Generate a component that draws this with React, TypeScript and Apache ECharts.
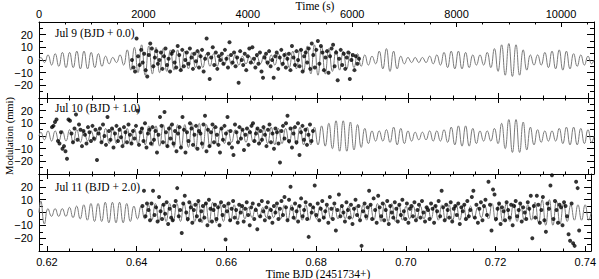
import React, { useEffect, useRef } from "react";
import * as echarts from "echarts";

// ---------- axes ----------
const BJD_MIN = 0.61823;
const BJD_MAX = 0.74129;
const SEC_PER_DAY = 86400;
const TIME_MAX = (BJD_MAX - BJD_MIN) * SEC_PER_DAY;

const bjdMajorTicks = [0.62, 0.64, 0.66, 0.68, 0.7, 0.72, 0.74];
const bjdMinorTicks = [0.625, 0.63, 0.635, 0.645, 0.65, 0.655, 0.665, 0.67, 0.675, 0.685, 0.69, 0.695, 0.705, 0.71, 0.715, 0.725, 0.73, 0.735];
const timeMajorTicks = [0, 2000, 4000, 6000, 8000, 10000];
const timeMinorTicks = [500, 1000, 1500, 2500, 3000, 3500, 4500, 5000, 5500, 6500, 7000, 7500, 8500, 9000, 9500, 10500];

const panelLabels = ["Jul 9 (BJD + 0.0)", "Jul 10 (BJD + 1.0)", "Jul 11 (BJD + 2.0)"];

// ---------- model curve: amplitude (mmi) of each pulsation cycle ----------
const MODEL_CYCLE = 0.0015965; // days per cycle
const jul9Envelope = [
  2, 4, 5, 6, 6, 7, 7, 6, 5, 3,
  2, 4, 8, 10, 12, 11, 10, 9, 8, 8,
  7, 6, 6, 5, 5, 4, 4, 4, 3, 3,
  3, 4, 4, 5, 6, 7, 9, 11, 12, 11,
  9, 8, 7, 6, 5, 4, 3, 7, 9, 7,
  3, 2, 2, 2, 3, 4, 6, 7, 7, 6,
  4, 4, 6, 9, 12, 13, 12, 8, 4, 4,
  6, 7, 8, 7, 5, 4, 3,
];
const jul10Envelope = [
  3, 4, 4, 4, 5, 5, 4, 4, 5, 6,
  6, 7, 6, 6, 7, 8, 8, 9, 9, 9,
  9, 10, 10, 9, 7, 6, 5, 5, 5, 5,
  6, 6, 7, 6, 6, 7, 7, 7, 7, 8,
  10, 12, 12, 11, 9, 6, 4, 4, 5, 7,
  6, 4, 3, 3, 4, 4, 5, 7, 8, 8,
  6, 4, 4, 6, 10, 13, 13, 11, 7, 5,
  4, 4, 6, 7, 7, 6, 5,
];
const jul11Envelope = [
  9, 3, 3, 3, 4, 5, 6, 7, 7, 8,
  8, 8, 7, 5, 5, 6, 7, 7, 7, 7,
  7, 7, 8, 8, 8, 7, 7, 6, 5, 4,
  4, 4, 4, 5, 6, 6, 6, 6, 5, 5,
  5, 5, 5, 5, 5, 6, 6, 7, 7, 7,
  6, 5, 5, 5, 5, 6, 6, 6, 6, 6,
  5, 4, 5, 7, 7, 7, 7, 6, 6, 8,
  10, 10, 9, 7, 6, 6, 6,
];

// ---------- observations (regular cadence between start and end) ----------
const jul9Start = 0.63885;
const jul9End = 0.68918;
const jul9Values = [
  0, -6, -9, 17, 3, -4, 8, -2, 5, -8,
  -13, 4, 13, 9, -5, 2, 7, -3, 0, 6,
  -7, 3, 9, -4, 1, -9, 5, 7, -2, -6,
  11, 4, -8, 8, -5, 0, 6, -3, 9, 2,
  -7, 5, -1, 7, -6, 3, 8, -9, 1, 17,
  5, -15, 2, 10, -4, 6, -7, 3, 0, 5,
  -3, 8, 1, -6, 14, 4, -2, 6, -5, 2,
  -18, 7, 0, -4, 5, -8, 3, 9, -2, 10,
  1, -6, 4, -3, 6, -9, -14, 2, 5, -2,
  7, -5, 0, -14, 3, 6, -7, 2, 8, -3,
  4, -6, 1, 5, -8, 11, 2, -4, 7, 0,
  -5, 8, -9, 3, 6, -2, 9, -7, 13, 4,
  -6, 8, 15, -3, 11, 6, -8, 2, 7, -10,
  3, 9, 12, -5, 6, -16, 1, 8, -4, 5,
  -7, 2, 6, -15, 0, 4, -8, 3, -3, 1,
];
const jul10Start = 0.62111;
const jul10End = 0.67898;
const jul10Values = [
  7, 8, 11, 13, -4, -6, 3, -10, -8, -12,
  -18, 13, 12, 2, -5, 6, 17, -3, 9, 5,
  -8, 4, 1, -6, 7, 3, -4, 8, -2, 5,
  -19, 2, 6, -5, 9, 0, -7, 15, 4, -3,
  6, -9, 2, 8, -4, 5, -1, -8, 7, 3,
  -5, 9, 1, -6, 4, -2, 8, 20, -7, 3,
  6, -4, 10, -9, 2, 5, -6, 7, -3, 4,
  -13, 1, 15, 8, -5, 19, 3, -8, 6, -2,
  9, -6, 4, -12, 2, 7, -9, 15, 5, -13,
  3, -4, 10, 6, -7, 1, 8, -10, 4, 2,
  -6, 9, 16, -12, 5, -8, 3, 9, -5, 7,
  1, -7, -13, 6, -3, 8, 2, 15, -6, 4,
  -9, -15, 9, 3, -5, 7, -2, 5, -11, 1,
  6, -7, 3, 8, 10, -4, 2, 6, -6, 4,
  -3, 7, 1, -8, 5, 9, -5, 2, -10, 6,
  3, -6, -21, 4, 8, -2, 10, 16, -4, 6,
  -9, 2, 7, -5, 10, -15, 3, 8, -3, 5,
  -7, 1, 9, -4, 4,
];
const jul11Start = 0.64129;
const jul11End = 0.73863;
const jul11Values = [
  5, 17, -3, 7, 2, -6, 7, 17, -2, 4,
  -7, 12, 1, -5, 6, -1, 8, -9, 3, -4,
  -6, 5, 9, 19, -3, 2, -16, 7, 13, 0,
  -5, 8, 4, -8, 2, 6, -3, 9, -6, 1,
  5, -4, 7, -10, 10, 3, -7, 2, 6, -5,
  4, -10, 8, -2, 5, -21, 1, 7, -6, 3,
  9, -4, 2, -8, 6, 0, 5, -7, 3, 8,
  -2, -10, 4, 7, -5, 2, -13, 6, -3, 9,
  1, -6, 4, 8, -4, 2, -8, 5, 0, 7,
  -5, 3, 9, -2, 12, 4, -6, 10, 20, 3,
  -4, 7, 1, -7, 5, 11, -3, 2, 8, -5,
  -19, 6, 0, 4, 21, -2, 7, -6, 3, 9,
  -4, 1, 6, -8, 12, 3, -5, 7, -14, 2,
  14, -3, 5, 0, -7, 8, 2, -4, 6, -9,
  3, 10, -2, 5, -6, -26, 1, 7, -3, 4,
  17, 6, -5, 11, 2, -8, 13, 4, -3, 7,
  -6, 2, 9, -9, 5, 0, -4, 8, 3, -7,
  6, -2, 10, 1, -5, 7, -8, 3, 5, -3,
  8, -6, 2, 6, -4, 9, 0, -7, 4, 2,
  -5, 7, 3, -8, 5, 1, 9, -3, 17, 4,
  -6, 6, 2, -4, 8, -7, 3, 5, -2, 7,
  -9, 4, 1, 6, -5, 9, -3, 2, 12, 17,
  -4, 6, -8, 3, 8, -6, 5, 10, -2, 24,
  6, -14, 18, 14, -5, 3, 7, -9, 4, 1,
  -6, 8, 2, -4, 6, -10, 5, 9, -3, 2,
  7, -7, 4, 0, -5, 8, 3, 13, -20, 5,
  -4, 13, 6, -8, 2, 12, -6, -15, 7, 3,
  21, 29, -5, 9, 2, -8, 6, 4, -10, 8,
  5, -3, -17, -22, 7, -24, -26, 24, 19, -14,
];

const SANS = "'Liberation Sans', Arial, sans-serif";
const SERIF = "'Liberation Serif', 'Times New Roman', serif";

function modelCurve(env: number[]) {
  const pts: number[][] = [[BJD_MIN, 0]];
  env.forEach((a, k) => {
    const x0 = BJD_MIN + k * MODEL_CYCLE;
    pts.push([x0 + MODEL_CYCLE * 0.25, a]);
    pts.push([x0 + MODEL_CYCLE * 0.75, -a]);
  });
  pts.push([BJD_MAX, 0]);
  return pts;
}

function cadence(start: number, end: number, values: number[]) {
  const step = (end - start) / (values.length - 1);
  return values.map((v, i) => [start + i * step, v]);
}

const GRID_TOPS = [22, 98, 174];
const GRID_HEIGHTS = [76, 76, 77];

function minus(v: number) {
  if (Math.abs(v) >= 30) return "";
  return v < 0 ? "\u2212" + String(-v) : String(v);
}

export default function App() {
  const ref = useRef<HTMLDivElement>(null);
  useEffect(() => {
    if (!ref.current) return;
    const chart = echarts.init(ref.current, undefined, { renderer: "svg" });
    const line = { color: "#000", width: 1 };
    const grids = GRID_TOPS.map((t, i) => ({ left: 39, right: 5, top: t, height: GRID_HEIGHTS[i], containLabel: false }));

    const xAxes: any[] = [];
    const xIdx: number[] = [];
    const edgeAxis = (g: number, pos: string, min: number, max: number, major: number[], minor: number[], showLabel: boolean, fmt: (v: number) => string) => {
      xAxes.push({
        gridIndex: g, type: "value", min, max, position: pos,
        axisLine: { show: true, onZero: false, lineStyle: line },
        axisTick: { show: true, inside: true, length: 5, lineStyle: line, customValues: major },
        axisLabel: { show: showLabel, customValues: major, formatter: fmt, color: "#000", fontFamily: SANS, fontSize: 11, margin: pos === "top" ? 3 : 5 },
        splitLine: { show: false },
      });
      xAxes.push({
        gridIndex: g, type: "value", min, max, position: pos,
        axisLine: { show: false, onZero: false },
        axisTick: { show: true, inside: true, length: 2.5, lineStyle: line, customValues: minor },
        axisLabel: { show: false, customValues: minor },
        splitLine: { show: false },
      });
    };
    const fmtB = (v: number) => v.toFixed(2);
    const fmtT = (v: number) => String(Math.round(v));
    for (let g = 0; g < 3; g++) {
      xIdx.push(xAxes.length);
      edgeAxis(g, "bottom", BJD_MIN, BJD_MAX, bjdMajorTicks, bjdMinorTicks, g === 2, fmtB);
      if (g === 0) edgeAxis(g, "top", 0, TIME_MAX, timeMajorTicks, timeMinorTicks, true, fmtT);
      else edgeAxis(g, "top", BJD_MIN, BJD_MAX, bjdMajorTicks, bjdMinorTicks, false, fmtB);
    }

    const yAxes: any[] = [];
    for (let g = 0; g < 3; g++) {
      for (const pos of ["left", "right"]) {
        yAxes.push({
          gridIndex: g, type: "value", min: -30, max: 30, interval: 10, position: pos,
          axisLine: { show: true, onZero: false, lineStyle: line },
          axisTick: { show: true, inside: true, length: 7, lineStyle: line },
          minorTick: { show: true, splitNumber: 2, length: 4, lineStyle: line },
          axisLabel: { show: pos === "left", formatter: minus, color: "#000", fontFamily: SANS, fontSize: 11, margin: 6 },
          splitLine: { show: false },
        });
      }
    }

    const envs = [jul9Envelope, jul10Envelope, jul11Envelope];
    const obs = [
      cadence(jul9Start, jul9End, jul9Values),
      cadence(jul10Start, jul10End, jul10Values),
      cadence(jul11Start, jul11End, jul11Values),
    ];
    const series: any[] = [];
    for (let g = 0; g < 3; g++) {
      series.push({
        type: "line", xAxisIndex: xIdx[g], yAxisIndex: g * 2, data: modelCurve(envs[g]),
        showSymbol: false, symbol: "none", smooth: 0.5,
        lineStyle: { color: "#7a7a7a", width: 1 }, z: 2, silent: true,
      });
      series.push({
        type: "scatter", xAxisIndex: xIdx[g], yAxisIndex: g * 2, data: obs[g],
        symbol: "circle", symbolSize: 4, itemStyle: { color: "#000" }, z: 3, silent: true,
      });
    }

    const texts: any[] = [
      { type: "text", x: 315, y: 6, style: { text: "Time (s)", fill: "#000", font: `11.5px ${SERIF}`, align: "center", verticalAlign: "middle", textAlign: "center", textVerticalAlign: "middle" } },
      { type: "text", x: 318, y: 274, style: { text: "Time BJD (2451734+)", fill: "#000", font: `11.5px ${SERIF}`, align: "center", verticalAlign: "middle", textAlign: "center", textVerticalAlign: "middle" } },
      { type: "text", x: 9, y: 136, rotation: Math.PI / 2, style: { text: "Modulation (mmi)", fill: "#000", font: `10.5px ${SERIF}`, align: "center", verticalAlign: "middle", textAlign: "center", textVerticalAlign: "middle" } },
    ];
    const labelYs = [33, 108, 187];
    panelLabels.forEach((t, i) => {
      texts.push({ type: "text", x: 55, y: labelYs[i], style: { text: t, fill: "#000", font: `11.5px ${SERIF}`, align: "left", verticalAlign: "middle", textAlign: "left", textVerticalAlign: "middle" } });
    });

    chart.setOption({
      animation: false,
      backgroundColor: "#fff",
      grid: grids,
      xAxis: xAxes,
      yAxis: yAxes,
      series,
      graphic: texts,
    });
    return () => chart.dispose();
  }, []);
  return <div ref={ref} style={{ position: "fixed", left: 0, top: 0, width: 599, height: 279, background: "#fff" }} />;
}
